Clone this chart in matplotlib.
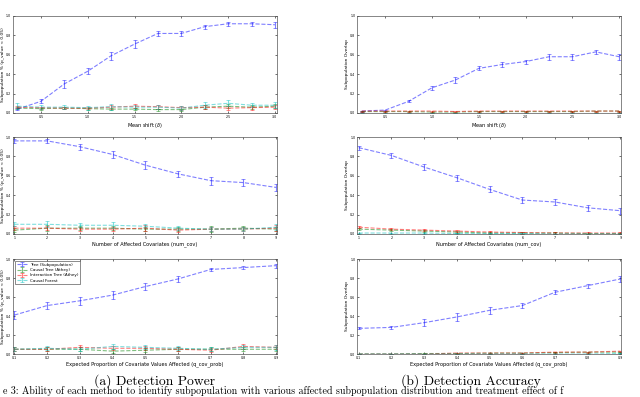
import numpy as np
import matplotlib
matplotlib.use("Agg")
import matplotlib.pyplot as plt

# ---- data -------------------------------------------------------------------
methods = ["Tree (Subpopulation)", "Causal Tree (Athey)",
           "Interaction Tree (Athey)", "Causal Forest"]
colors = ["b", "g", "r", "c"]

mean_shift = [0.25, 0.5, 0.75, 1.0, 1.25, 1.5, 1.75, 2.0, 2.25, 2.5, 2.75, 3.0]
num_cov = [1, 2, 3, 4, 5, 6, 7, 8, 9]
cov_prob = [0.1, 0.2, 0.3, 0.4, 0.5, 0.6, 0.7, 0.8, 0.9]

# detection power
power_shift = [
    [0.04, 0.12, 0.30, 0.43, 0.59, 0.71, 0.82, 0.82, 0.89, 0.92, 0.92, 0.91],
    [0.05, 0.045, 0.05, 0.045, 0.04, 0.04, 0.035, 0.035, 0.06, 0.07, 0.06, 0.07],
    [0.06, 0.055, 0.05, 0.05, 0.06, 0.07, 0.065, 0.055, 0.06, 0.05, 0.055, 0.06],
    [0.07, 0.06, 0.06, 0.055, 0.065, 0.06, 0.06, 0.05, 0.08, 0.10, 0.08, 0.08],
]
power_shift_err = [
    [0.01, 0.02, 0.04, 0.03, 0.04, 0.04, 0.03, 0.03, 0.02, 0.02, 0.02, 0.03],
    [0.01, 0.01, 0.01, 0.01, 0.01, 0.01, 0.01, 0.01, 0.02, 0.02, 0.02, 0.02],
    [0.01, 0.01, 0.01, 0.01, 0.02, 0.02, 0.02, 0.02, 0.02, 0.02, 0.02, 0.02],
    [0.03, 0.02, 0.02, 0.02, 0.03, 0.02, 0.02, 0.02, 0.03, 0.03, 0.02, 0.03],
]
power_cov = [
    [0.96, 0.96, 0.90, 0.82, 0.71, 0.62, 0.55, 0.53, 0.48],
    [0.04, 0.06, 0.06, 0.06, 0.05, 0.05, 0.05, 0.06, 0.05],
    [0.06, 0.06, 0.05, 0.05, 0.06, 0.04, 0.05, 0.05, 0.06],
    [0.10, 0.10, 0.09, 0.09, 0.08, 0.06, 0.05, 0.05, 0.07],
]
power_cov_err = [
    [0.02, 0.02, 0.03, 0.04, 0.04, 0.03, 0.04, 0.04, 0.04],
    [0.02, 0.03, 0.02, 0.02, 0.02, 0.02, 0.03, 0.02, 0.02],
    [0.02, 0.02, 0.02, 0.02, 0.03, 0.02, 0.02, 0.02, 0.03],
    [0.02, 0.03, 0.02, 0.03, 0.02, 0.02, 0.02, 0.02, 0.03],
]
power_prob = [
    [0.41, 0.51, 0.56, 0.62, 0.71, 0.79, 0.89, 0.91, 0.93],
    [0.05, 0.05, 0.05, 0.03, 0.04, 0.05, 0.05, 0.05, 0.05],
    [0.05, 0.05, 0.07, 0.06, 0.06, 0.05, 0.04, 0.08, 0.07],
    [0.05, 0.06, 0.05, 0.08, 0.07, 0.06, 0.05, 0.07, 0.07],
]
power_prob_err = [
    [0.04, 0.04, 0.04, 0.04, 0.04, 0.03, 0.02, 0.02, 0.02],
    [0.02, 0.02, 0.02, 0.02, 0.02, 0.02, 0.02, 0.02, 0.02],
    [0.02, 0.02, 0.02, 0.02, 0.02, 0.02, 0.02, 0.03, 0.02],
    [0.02, 0.02, 0.02, 0.03, 0.02, 0.02, 0.02, 0.02, 0.03],
]

# detection accuracy
overlap_shift = [
    [0.02, 0.03, 0.12, 0.26, 0.34, 0.46, 0.50, 0.53, 0.58, 0.58, 0.63, 0.58],
    [0.015, 0.015, 0.015, 0.01, 0.01, 0.015, 0.015, 0.015, 0.015, 0.015, 0.02, 0.02],
    [0.02, 0.02, 0.02, 0.02, 0.015, 0.02, 0.02, 0.02, 0.02, 0.02, 0.02, 0.02],
    [0.0, 0.0, 0.0, 0.0, 0.0, 0.0, 0.0, 0.0, 0.0, 0.0, 0.0, 0.0],
]
overlap_shift_err = [
    [0.005, 0.005, 0.01, 0.02, 0.03, 0.02, 0.03, 0.02, 0.03, 0.03, 0.02, 0.03],
    [0.005] * 12,
    [0.005] * 12,
    [0.002] * 12,
]
overlap_cov = [
    [0.89, 0.81, 0.69, 0.58, 0.46, 0.35, 0.33, 0.27, 0.24],
    [0.05, 0.04, 0.03, 0.02, 0.01, 0.01, 0.01, 0.005, 0.005],
    [0.07, 0.05, 0.04, 0.03, 0.02, 0.015, 0.01, 0.01, 0.01],
    [0.01, 0.01, 0.01, 0.005, 0.005, 0.005, 0.0, 0.0, 0.0],
]
overlap_cov_err = [
    [0.02, 0.03, 0.03, 0.03, 0.03, 0.03, 0.03, 0.03, 0.03],
    [0.01] * 9,
    [0.01] * 9,
    [0.005] * 9,
]
overlap_prob = [
    [0.27, 0.28, 0.33, 0.39, 0.46, 0.51, 0.65, 0.72, 0.79],
    [0.0, 0.0, 0.005, 0.005, 0.01, 0.01, 0.015, 0.02, 0.02],
    [0.0, 0.0, 0.0, 0.01, 0.01, 0.01, 0.02, 0.02, 0.03],
    [0.0, 0.0, 0.0, 0.0, 0.0, 0.0, 0.0, 0.0, 0.005],
]
overlap_prob_err = [
    [0.01, 0.02, 0.04, 0.04, 0.04, 0.03, 0.02, 0.02, 0.03],
    [0.005] * 9,
    [0.005] * 9,
    [0.002] * 9,
]

xlabels = ["Mean shift ($\\delta$)",
           "Number of Affected Covariates (num_cov)",
           "Expected Proportion of Covariate Values Affected (q_cov_prob)"]
ylabel_power = "Subpopulation % (p_value < 0.05)"
ylabel_acc = "Subpopulation Overlap"
captions = ["(a) Detection Power", "(b) Detection Accuracy"]
figure_note = ("e 3: Ability of each method to identify subpopulation with various "
               "affected subpopulation distribution and treatment effect of f")

# ---- figure -----------------------------------------------------------------
fig = plt.figure(figsize=(6.4, 3.97), dpi=100)

rows = [0.7154, 0.4106, 0.1083]
heights = [0.2443, 0.2443, 0.2393]
lefts = [0.020, 0.558]
width = 0.4125

panels = [
    (mean_shift, power_shift, power_shift_err, overlap_shift, overlap_shift_err,
     [0.5, 1.0, 1.5, 2.0, 2.5, 3.0], (0.2, 3.02)),
    (num_cov, power_cov, power_cov_err, overlap_cov, overlap_cov_err,
     num_cov, (0.95, 9.02)),
    (cov_prob, power_prob, power_prob_err, overlap_prob, overlap_prob_err,
     cov_prob, (0.095, 0.902)),
]


def draw(ax, x, ys, errs, xticks, xlim, xlabel, ylabel, legend=False):
    for y, e, c, lab in zip(ys, errs, colors, methods):
        ax.errorbar(x, y, yerr=e, color=c, ls="--", lw=0.8, alpha=0.5,
                    elinewidth=0.8, capsize=1.5, capthick=0.6, label=lab)
    ax.set_xlim(*xlim)
    ax.set_ylim(0, 1.0)
    ax.set_xticks(xticks)
    ax.set_yticks([0.0, 0.2, 0.4, 0.6, 0.8, 1.0])
    ax.set_xticklabels([f"{t:g}" if isinstance(t, int) else f"{t:.1f}" for t in xticks])
    ax.set_yticklabels(["0.0", "0.2", "0.4", "0.6", "0.8", "1.0"])
    ax.tick_params(direction="in", length=1.5, width=0.4, labelsize=2.3, pad=1.2,
                   top=True, right=True)
    for s in ax.spines.values():
        s.set_linewidth(0.5)
        s.set_color("#555555")
    ax.set_xlabel(xlabel, fontsize=3.6, labelpad=1.5)
    ax.set_ylabel(ylabel, fontsize=3.2, labelpad=0.8)
    if legend:
        ax.legend(loc="upper left", fontsize=3.0, frameon=True, fancybox=False,
                  edgecolor="black", borderpad=0.4, handlelength=2.5,
                  labelspacing=0.3).get_frame().set_linewidth(0.4)


for i, (x, pw, pwe, ov, ove, xticks, xlim) in enumerate(panels):
    ax_l = fig.add_axes([lefts[0], rows[i], width, heights[i]])
    draw(ax_l, x, pw, pwe, xticks, xlim, xlabels[i], ylabel_power, legend=(i == 2))
    ax_r = fig.add_axes([lefts[1], rows[i], width, heights[i]])
    draw(ax_r, x, ov, ove, xticks, xlim, xlabels[i], ylabel_acc)

fig.text(0.242, 0.041, captions[0], family="cmr10", fontsize=9.8,
         ha="center", va="center")
fig.text(0.735, 0.041, captions[1], family="cmr10", fontsize=9.8,
         ha="center", va="center")
fig.text(0.004, 0.002, figure_note, family="cmr10", fontsize=7.2,
         ha="left", va="bottom")

fig.savefig("out.png", dpi=100)
